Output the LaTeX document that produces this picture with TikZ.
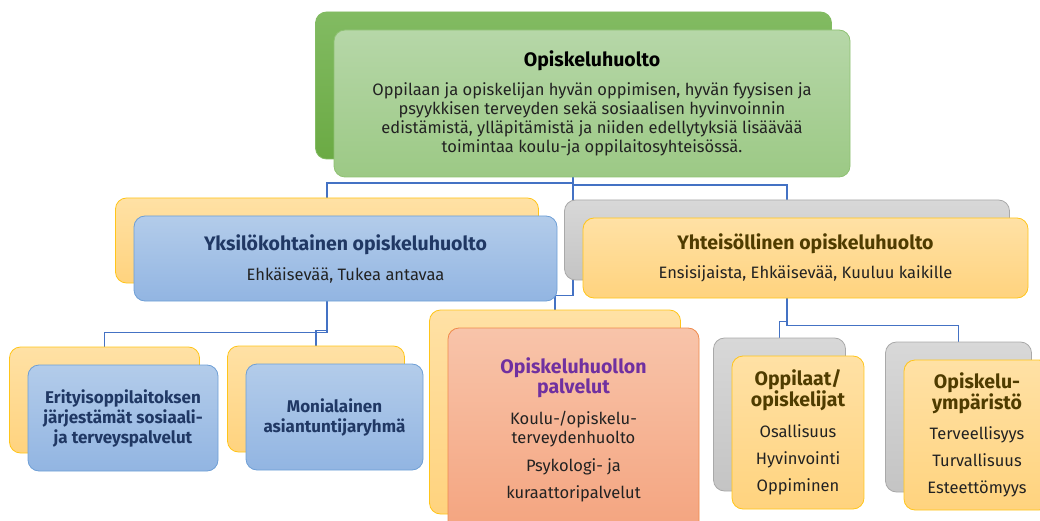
\documentclass[tikz,border=0pt]{standalone}
\usepackage{fontspec}
\setmainfont{Fira Sans}
\usetikzlibrary{shadows,backgrounds}
\definecolor{gtop}{HTML}{B6D7A8}\definecolor{gbot}{HTML}{9CC985}\definecolor{gline}{HTML}{8EC172}
\definecolor{gstop}{HTML}{82BB62}\definecolor{gsbot}{HTML}{6BAA44}
\definecolor{btop}{HTML}{B3CCEA}\definecolor{bbot}{HTML}{92B5E2}\definecolor{bline}{HTML}{6E9FD6}
\definecolor{ytop}{HTML}{FFE1A5}\definecolor{ybot}{HTML}{FFD37E}\definecolor{yline}{HTML}{FFC51A}
\definecolor{otop}{HTML}{F8C4AA}\definecolor{obot}{HTML}{F4A47F}\definecolor{oline}{HTML}{EF8A4C}
\definecolor{stop}{HTML}{D8D8D8}\definecolor{sbot}{HTML}{C4C4C4}\definecolor{sline}{HTML}{A9A9A9}
\definecolor{connblue}{HTML}{4472C4}
\definecolor{navy}{HTML}{203864}\definecolor{brown}{HTML}{4F3C00}\definecolor{violet}{HTML}{7030A0}
\definecolor{ink}{HTML}{222222}
\tikzset{
  box/.style={rounded corners=11pt,line width=0.8pt,align=center,inner sep=2pt,text=ink,
    font=\fontsize{16.5}{19}\selectfont},
  back/.style={general shadow={shadow xshift=-18.5pt,shadow yshift=18pt,line width=0.8pt,#1}},
  greenback/.style={back={top color=gstop,bottom color=gsbot,draw=gstop}},
  yellowback/.style={back={top color=ytop,bottom color=ybot,draw=yline}},
  grayback/.style={back={top color=stop,bottom color=sbot,draw=sline}},
  greenbox/.style={box,draw=gline,top color=gtop,bottom color=gbot,greenback},
  bluebox/.style={box,draw=bline,top color=btop,bottom color=bbot,yellowback},
  yellowbox/.style={box,draw=yline,top color=ytop,bottom color=ybot,grayback},
  orangebox/.style={box,draw=oline,top color=otop,bottom color=obot,yellowback},
  smalltitle/.style={font=\fontsize{17}{20}\selectfont\bfseries,text=navy},
  conn/.style={draw=connblue,line width=1.8pt}
}
\begin{document}
\begin{tikzpicture}[x=1pt,y=-1pt]
	\def\ttl{\fontsize{19.5}{21}\selectfont\bfseries}
	\useasboundingbox (0,0) rectangle (1040,521);
	\node[greenbox,minimum width=516pt,minimum height=147pt] (top) at (592,103.5)
		{{\ttl\color{black}Opiskeluhuolto}\\[10pt]
		Oppilaan ja opiskelijan hyvän oppimisen, hyvän fyysisen ja\\
		psyykkisen terveyden sekä sosiaalisen hyvinvoinnin\\
		edistämistä, ylläpitämistä ja niiden edellytyksiä lisäävää\\
		toimintaa koulu-ja oppilaitosyhteisössä.};
	\node[bluebox,minimum width=423pt,minimum height=85pt] (yksi) at (345.5,258.5)
		{{\ttl\color{navy}Yksilökohtainen opiskeluhuolto}\\[11pt]Ehkäisevää, Tukea antavaa};
	\node[yellowbox,minimum width=445pt,minimum height=80pt] (yhte) at (805.5,258)
		{{\ttl\color{brown}Yhteisöllinen opiskeluhuolto}\\[10pt]Ensisijaista, Ehkäisevää, Kuuluu kaikille};
	\node[bluebox,smalltitle,minimum width=190pt,minimum height=106pt] (erit) at (123,418)
		{Erityisoppilaitoksen\\järjestämät sosiaali-\\ja terveyspalvelut};
	\node[bluebox,smalltitle,minimum width=177pt,minimum height=106pt] (moni) at (334.5,417)
		{Monialainen\\asiantuntijaryhmä};
	\node[orangebox,minimum width=251pt,minimum height=204pt] (palv) at (573.5,430)
		{{\ttl\color{violet}Opiskeluhuollon}\\{\ttl\color{violet}palvelut}\\[12pt]Koulu-/opiskelu-\\terveydenhuolto\\[9pt]
		Psykologi- ja\\[8pt]kuraattoripalvelut};
	\node[yellowbox,minimum width=132pt,minimum height=153pt] (oppi) at (798,432.5)
		{{\ttl\color{brown}Oppilaat/}\\{\ttl\color{brown}opiskelijat}\\[12pt]Osallisuus\\[8pt]Hyvinvointi\\[8pt]Oppiminen};
	\node[yellowbox,minimum width=146pt,minimum height=150pt] (ymp) at (977,435)
		{{\ttl\color{brown}Opiskelu-}\\{\ttl\color{brown}ympäristö}\\[11pt]Terveellisyys\\[8pt]Turvallisuus\\[8pt]Esteettömyys};
	\begin{scope}[on background layer]
		\draw[conn] ([xshift=-19pt]top.south) -- ++(0,6) -| ([xshift=-18.5pt,yshift=18pt]yksi.north);
		\draw[conn] ([xshift=-19pt]top.south) -- ++(0,8) -| ([xshift=-18.5pt,yshift=18pt]yhte.north);
		\draw[conn] ([xshift=-19pt]top.south) -- ++(0,118) -| ([xshift=-18.5pt,yshift=18pt]palv.north);
		\draw[conn] ([xshift=-18.5pt]yksi.south) -- ++(0,31) -| ([xshift=-18.5pt,yshift=18pt]erit.north);
		\draw[conn] ([xshift=-18.5pt]yksi.south) -- ++(0,29) -| ([xshift=-18.5pt,yshift=18pt]moni.north);
		\draw[conn] ([xshift=-18.5pt]yhte.south) -- ++(0,27) -| ([xshift=-18.5pt,yshift=18pt]ymp.north);
		\draw[conn] ([xshift=-18.5pt]yhte.south) -- ++(0,23) -| ([xshift=-18.5pt,yshift=18pt]oppi.north);
	\end{scope}
\end{tikzpicture}
\end{document}
